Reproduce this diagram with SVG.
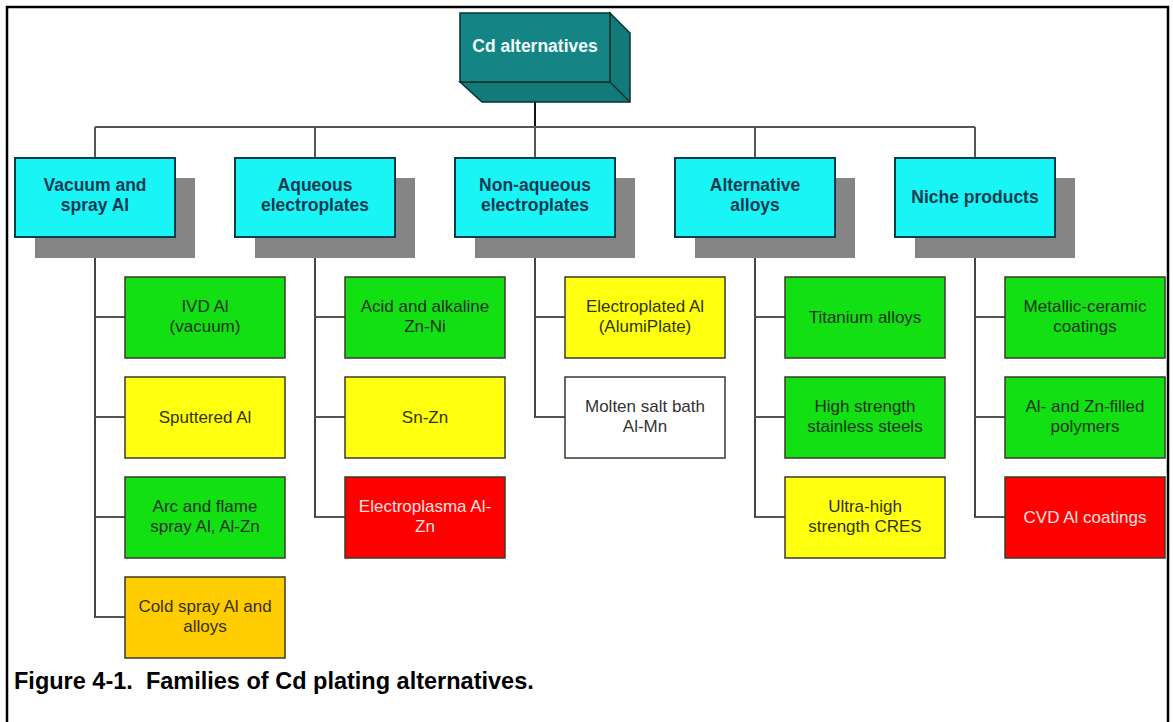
<svg xmlns="http://www.w3.org/2000/svg" width="1173" height="722" viewBox="0 0 1173 722">
<style>
.t{font-family:"Liberation Sans",Arial,sans-serif;text-anchor:middle}
.l2{font-size:17.5px;font-weight:bold;fill:#0f3a52}
.c{font-size:17px}
.sh{fill:#858585}
.n2{fill:#19F5F5;stroke:#0a3c4a;stroke-width:2}
.ch{stroke:#3a3a2a;stroke-width:1.5}
.g{fill:#12E012}.y{fill:#FFFF10}.o{fill:#FFCC00}.r{fill:#FF0000}.w{fill:#FFFFFF}
.dk{fill:#123212}.yk{fill:#333300}.rk{fill:#FFE0E0}.wk{fill:#333333}
.conn line{stroke:#444;stroke-width:2}
.conn line.s{stroke:#555;stroke-width:2}
</style>
<rect x="0" y="0" width="1173" height="722" fill="#fff"/>
<path d="M7 730 V7 H1168 V730" fill="none" stroke="#000" stroke-width="2.5"/>

<g class="conn">
<line x1="535" y1="100" x2="535" y2="127" style="stroke:#111"/>
<line x1="95" y1="127" x2="975" y2="127" class="s"/>
<line x1="95" y1="127" x2="95" y2="158" class="s"/>
<line x1="315" y1="127" x2="315" y2="158" class="s"/>
<line x1="535" y1="127" x2="535" y2="158" class="s"/>
<line x1="755" y1="127" x2="755" y2="158" class="s"/>
<line x1="975" y1="127" x2="975" y2="158" class="s"/>
<line x1="95" y1="237" x2="95" y2="618"/>
<line x1="95" y1="317" x2="125" y2="317" class="s"/>
<line x1="95" y1="417" x2="125" y2="417" class="s"/>
<line x1="95" y1="517" x2="125" y2="517" class="s"/>
<line x1="95" y1="617" x2="125" y2="617" class="s"/>
<line x1="315" y1="237" x2="315" y2="518"/>
<line x1="315" y1="317" x2="345" y2="317" class="s"/>
<line x1="315" y1="417" x2="345" y2="417" class="s"/>
<line x1="315" y1="517" x2="345" y2="517" class="s"/>
<line x1="535" y1="237" x2="535" y2="418"/>
<line x1="535" y1="317" x2="565" y2="317" class="s"/>
<line x1="535" y1="417" x2="565" y2="417" class="s"/>
<line x1="755" y1="237" x2="755" y2="518"/>
<line x1="755" y1="317" x2="785" y2="317" class="s"/>
<line x1="755" y1="417" x2="785" y2="417" class="s"/>
<line x1="755" y1="517" x2="785" y2="517" class="s"/>
<line x1="975" y1="237" x2="975" y2="518"/>
<line x1="975" y1="317" x2="1005" y2="317" class="s"/>
<line x1="975" y1="417" x2="1005" y2="417" class="s"/>
<line x1="975" y1="517" x2="1005" y2="517" class="s"/>
</g>

<g id="root">
<path d="M460 82 L482 102 H630 V33 L610 13 V82 Z" fill="#137a7a" stroke="#0a3030" stroke-width="1.5"/>
<line x1="610" y1="82" x2="630" y2="102" stroke="#0a3030" stroke-width="1.5"/>
<rect x="460" y="13" width="150" height="69" fill="#148484" stroke="#0a3030" stroke-width="1.5"/>
<text class="t" x="535" y="52" style="font-size:17.5px;font-weight:bold;fill:#f0ffff">Cd alternatives</text>
</g>

<g id="n-vacuum">
<rect class="sh" x="35" y="178" width="160" height="80"/>
<rect class="n2" x="15" y="158" width="160" height="79"/>
<text class="t l2" x="95" y="191">Vacuum and</text>
<text class="t l2" x="95" y="211">spray Al</text>
</g>
<g id="n-aqueous">
<rect class="sh" x="255" y="178" width="160" height="80"/>
<rect class="n2" x="235" y="158" width="160" height="79"/>
<text class="t l2" x="315" y="191">Aqueous</text>
<text class="t l2" x="315" y="211">electroplates</text>
</g>
<g id="n-nonaqueous">
<rect class="sh" x="475" y="178" width="160" height="80"/>
<rect class="n2" x="455" y="158" width="160" height="79"/>
<text class="t l2" x="535" y="191">Non-aqueous</text>
<text class="t l2" x="535" y="211">electroplates</text>
</g>
<g id="n-alloys">
<rect class="sh" x="695" y="178" width="160" height="80"/>
<rect class="n2" x="675" y="158" width="160" height="79"/>
<text class="t l2" x="755" y="191">Alternative</text>
<text class="t l2" x="755" y="211">alloys</text>
</g>
<g id="n-niche">
<rect class="sh" x="915" y="178" width="160" height="80"/>
<rect class="n2" x="895" y="158" width="160" height="79"/>
<text class="t l2" x="975" y="203">Niche products</text>
</g>

<g id="c-ivd"><rect class="ch g" x="125" y="277" width="160" height="81"/>
<text class="t c dk" x="205" y="312">IVD Al</text><text class="t c dk" x="205" y="332">(vacuum)</text></g>
<g id="c-sputter"><rect class="ch y" x="125" y="377" width="160" height="81"/>
<text class="t c yk" x="205" y="423">Sputtered Al</text></g>
<g id="c-arc"><rect class="ch g" x="125" y="477" width="160" height="81"/>
<text class="t c dk" x="205" y="512">Arc and flame</text><text class="t c dk" x="205" y="532">spray Al, Al-Zn</text></g>
<g id="c-cold"><rect class="ch o" x="125" y="577" width="160" height="81"/>
<text class="t c yk" x="205" y="612">Cold spray Al and</text><text class="t c yk" x="205" y="632">alloys</text></g>

<g id="c-acid"><rect class="ch g" x="345" y="277" width="160" height="81"/>
<text class="t c dk" x="425" y="312">Acid and alkaline</text><text class="t c dk" x="425" y="332">Zn-Ni</text></g>
<g id="c-snzn"><rect class="ch y" x="345" y="377" width="160" height="81"/>
<text class="t c yk" x="425" y="423">Sn-Zn</text></g>
<g id="c-eplasma"><rect class="ch r" x="345" y="477" width="160" height="81"/>
<text class="t c rk" x="425" y="512">Electroplasma Al-</text><text class="t c rk" x="425" y="532">Zn</text></g>

<g id="c-alumi"><rect class="ch y" x="565" y="277" width="160" height="81"/>
<text class="t c yk" x="645" y="312">Electroplated Al</text><text class="t c yk" x="645" y="332">(AlumiPlate)</text></g>
<g id="c-molten"><rect class="ch w" x="565" y="377" width="160" height="81"/>
<text class="t c wk" x="645" y="412">Molten salt bath</text><text class="t c wk" x="645" y="432">Al-Mn</text></g>

<g id="c-ti"><rect class="ch g" x="785" y="277" width="160" height="81"/>
<text class="t c dk" x="865" y="323">Titanium alloys</text></g>
<g id="c-hss"><rect class="ch g" x="785" y="377" width="160" height="81"/>
<text class="t c dk" x="865" y="412">High strength</text><text class="t c dk" x="865" y="432">stainless steels</text></g>
<g id="c-cres"><rect class="ch y" x="785" y="477" width="160" height="81"/>
<text class="t c yk" x="865" y="512">Ultra-high</text><text class="t c yk" x="865" y="532">strength CRES</text></g>

<g id="c-metcer"><rect class="ch g" x="1005" y="277" width="160" height="81"/>
<text class="t c dk" x="1085" y="312">Metallic-ceramic</text><text class="t c dk" x="1085" y="332">coatings</text></g>
<g id="c-poly"><rect class="ch g" x="1005" y="377" width="160" height="81"/>
<text class="t c dk" x="1085" y="412">Al- and Zn-filled</text><text class="t c dk" x="1085" y="432">polymers</text></g>
<g id="c-cvd"><rect class="ch r" x="1005" y="477" width="160" height="81"/>
<text class="t c rk" x="1085" y="523">CVD Al coatings</text></g>

<text x="14" y="689" xml:space="preserve" style="font-family:'Liberation Sans',Arial,sans-serif;font-size:23.5px;font-weight:bold;fill:#000">Figure 4-1.  Families of Cd plating alternatives.</text>
</svg>
